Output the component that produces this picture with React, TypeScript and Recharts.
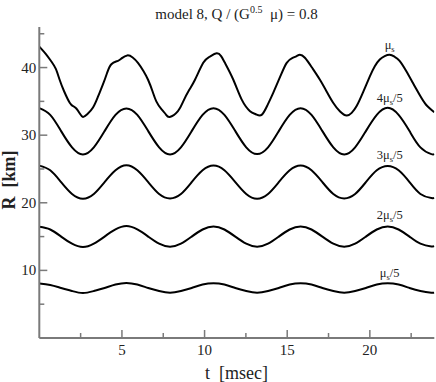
import React from "react";
import { LineChart, Line, XAxis, YAxis, ReferenceDot } from "recharts";

// mu_s curve (irregular, read point by point)
const muTimes = [
  0, 0.4, 0.73, 1.0, 1.23, 1.5, 1.84, 2.05, 2.24, 2.45, 2.64, 2.9, 3.25, 3.55, 3.85, 4.1, 4.36, 4.76, 5.0,
  5.32, 5.65, 5.97, 6.3, 6.58, 6.85, 7.08, 7.4, 7.65, 7.89, 8.39, 8.71, 9.05, 9.42, 9.92, 10.3, 10.73, 11.0,
  11.23, 11.74, 12.24, 12.75, 13.1, 13.45, 13.8, 14.16, 14.6, 14.97, 15.3, 15.57, 15.77, 16.07, 16.5, 16.98,
  17.4, 17.78, 18.2, 18.6, 18.9, 19.2, 19.6, 20.0, 20.3, 20.6, 20.9, 21.2, 21.5, 21.8, 22.2, 22.6, 23.0, 23.4, 23.9,
];
const muValues = [
  43.1, 42.0, 40.9, 39.8, 38.2, 36.5, 34.8, 34.3, 33.95, 33.2, 32.7, 33.1, 34.1, 35.7, 37.5, 39.2, 40.5, 41.0, 41.4,
  41.8, 41.5, 40.7, 39.5, 38.2, 36.5, 35.0, 33.8, 33.1, 32.7, 33.55, 35.0, 36.6, 38.2, 40.7, 41.6, 42.1, 41.7,
  40.7, 38.2, 35.3, 33.55, 33.1, 33.0, 34.4, 36.3, 38.8, 40.7, 41.4, 41.7, 41.9, 41.45, 40.0, 38.2,
  36.4, 34.8, 33.5, 32.9, 33.3, 34.3, 36.4, 38.7, 40.2, 41.2, 41.7, 41.9, 41.6, 41.0, 39.5, 37.75, 36.0, 34.5, 33.4,
];

// lower curves, sampled on a shared time grid
const gridTimes = [
  0, 0.66, 1.32, 1.98, 2.64, 3.3, 3.95, 4.61, 5.27, 5.93, 6.59, 7.25, 7.91, 8.57, 9.22, 9.88, 10.54, 11.2, 11.86,
  12.52, 13.18, 13.84, 14.49, 15.15, 15.81, 16.47, 17.13, 17.79, 18.45, 19.11, 19.76, 20.42, 21.08, 21.74, 22.4,
  23.06, 23.72, 23.9,
];
const r4of5 = [
  34.0, 33.0, 30.6, 28.2, 27.15, 28.2, 30.6, 33.0, 33.95, 33.0, 30.6, 28.2, 27.15, 28.2, 30.6, 33.0, 34.0, 33.0, 30.6,
  28.2, 27.2, 28.2, 30.6, 33.0, 34.0, 33.0, 30.6, 28.2, 27.15, 28.2, 30.6, 33.0, 34.05, 33.0, 30.6, 28.2, 27.2, 27.25,
];
const r3of5 = [
  25.5, 24.8, 23.05, 21.3, 20.6, 21.3, 23.05, 24.8, 25.55, 24.8, 23.05, 21.3, 20.65, 21.3, 23.05, 24.8, 25.5, 24.8, 23.05,
  21.3, 20.6, 21.3, 23.05, 24.8, 25.5, 24.8, 23.05, 21.3, 20.65, 21.3, 23.05, 24.8, 25.45, 24.8, 23.05, 21.3, 20.7, 20.75,
];
const r2of5 = [
  16.45, 16.05, 15.0, 13.95, 13.45, 13.95, 15.0, 16.05, 16.55, 16.05, 15.0, 13.95, 13.5, 13.95, 15.0, 16.05, 16.5, 16.05, 15.0,
  13.95, 13.5, 13.95, 15.0, 16.05, 16.5, 16.05, 15.0, 13.95, 13.5, 13.95, 15.0, 16.05, 16.5, 16.05, 15.0, 13.95, 13.55, 13.6,
];
const r1of5 = [
  8.05, 7.85, 7.4, 6.95, 6.65, 6.95, 7.4, 7.9, 8.15, 7.9, 7.4, 6.95, 6.7, 6.95, 7.4, 7.9, 8.1, 7.9, 7.4,
  6.95, 6.7, 6.95, 7.4, 7.9, 8.1, 7.9, 7.4, 6.95, 6.7, 6.95, 7.4, 7.9, 8.1, 7.9, 7.4, 6.95, 6.7, 6.7,
];

const xTicks = [2.5, 5, 7.5, 10, 12.5, 15, 17.5, 20, 22.5];
const xTickLabels = ["", "5", "", "10", "", "15", "", "20", ""];
const yTicks = [5, 10, 15, 20, 25, 30, 35, 40, 45];
const yTickLabels = ["", "10", "", "20", "", "30", "", "40", ""];

const curveLabels = [
  { lead: "μ", tail: "", t: 21.2, v: 42.7 },
  { lead: "4μ", tail: "/5", t: 21.2, v: 34.84 },
  { lead: "3μ", tail: "/5", t: 21.2, v: 26.41 },
  { lead: "2μ", tail: "/5", t: 21.2, v: 17.54 },
  { lead: "μ", tail: "/5", t: 21.2, v: 8.96 },
];

const topData = muTimes.map((t, i) => ({ t, r: muValues[i] }));
const lowerData = gridTimes.map((t, i) => ({
  t,
  a: r4of5[i],
  b: r3of5[i],
  c: r2of5[i],
  d: r1of5[i],
}));

const AXIS = "#7a7a7a";
const SERIF = '"Liberation Serif", "Times New Roman", "DejaVu Serif", serif';
const X_DOMAIN = [0, 23.9];
const Y_DOMAIN = [0, 46];

const BottomTick = (props: any) => {
  const { x, y, payload } = props;
  const label = xTickLabels[xTicks.indexOf(payload.value)];
  const len = label ? 8 : 5;
  return (
    <g>
      <line x1={x} x2={x} y1={y} y2={y - len} stroke={AXIS} strokeWidth={1.5} />
      <text x={x} y={y + 17} textAnchor="middle" fontFamily={SERIF} fontSize={15} fill="#222">
        {label}
      </text>
    </g>
  );
};

const TopTick = (props: any) => {
  const { x, y, payload } = props;
  const len = xTickLabels[xTicks.indexOf(payload.value)] ? 8 : 5;
  return <line x1={x} x2={x} y1={y} y2={y + len} stroke={AXIS} strokeWidth={1.5} />;
};

const LeftTick = (props: any) => {
  const { x, y, payload } = props;
  const label = yTickLabels[yTicks.indexOf(payload.value)];
  const len = label ? 8 : 5;
  return (
    <g>
      <line x1={x} x2={x + len} y1={y} y2={y} stroke={AXIS} strokeWidth={1.5} />
      <text x={x - 3} y={y + 5} textAnchor="end" fontFamily={SERIF} fontSize={15} fill="#222">
        {label}
      </text>
    </g>
  );
};

const RightTick = (props: any) => {
  const { x, y, payload } = props;
  const len = yTickLabels[yTicks.indexOf(payload.value)] ? 8 : 5;
  return <line x1={x} x2={x - len} y1={y} y2={y} stroke={AXIS} strokeWidth={1.5} />;
};

export default function App() {
  return (
    <div style={{ position: "absolute", left: 0, top: 0, width: 436, height: 382 }}>
      <div
        style={{
          position: "absolute",
          left: 39,
          top: 2,
          width: 395,
          textAlign: "center",
          fontFamily: SERIF,
          fontSize: 15,
          lineHeight: "16px",
          color: "#222",
          whiteSpace: "pre",
        }}
      >
        model 8, Q / (G<sup style={{ fontSize: 10 }}>0.5</sup>  μ) = 0.8
      </div>
      <LineChart width={436} height={382} margin={{ top: 27, right: 1.7, bottom: 0, left: 0.3 }}>
        <XAxis
          dataKey="t"
          type="number"
          domain={X_DOMAIN}
          ticks={xTicks}
          interval={0}
          height={44}
          tickLine={false}
          tickSize={0}
          tickMargin={0}
          axisLine={{ stroke: AXIS, strokeWidth: 2 }}
          tick={<BottomTick />}
          allowDataOverflow
        />
        <XAxis
          xAxisId="top"
          orientation="top"
          type="number"
          domain={X_DOMAIN}
          ticks={xTicks}
          interval={0}
          height={0}
          tickLine={false}
          tickSize={0}
          tickMargin={0}
          axisLine={{ stroke: AXIS, strokeWidth: 2 }}
          tick={<TopTick />}
          allowDataOverflow
        />
        <YAxis
          type="number"
          domain={Y_DOMAIN}
          ticks={yTicks}
          interval={0}
          width={39}
          tickLine={false}
          tickSize={0}
          tickMargin={0}
          axisLine={{ stroke: AXIS, strokeWidth: 2 }}
          tick={<LeftTick />}
          allowDataOverflow
        />
        <YAxis
          yAxisId="right"
          orientation="right"
          type="number"
          domain={Y_DOMAIN}
          ticks={yTicks}
          interval={0}
          width={0}
          tickLine={false}
          tickSize={0}
          tickMargin={0}
          axisLine={{ stroke: AXIS, strokeWidth: 2 }}
          tick={<RightTick />}
          allowDataOverflow
        />
        <Line data={topData} dataKey="r" type="natural" stroke="#000" strokeWidth={2} dot={false} isAnimationActive={false} />
        <Line data={lowerData} dataKey="a" type="natural" stroke="#000" strokeWidth={2} dot={false} isAnimationActive={false} />
        <Line data={lowerData} dataKey="b" type="natural" stroke="#000" strokeWidth={2} dot={false} isAnimationActive={false} />
        <Line data={lowerData} dataKey="c" type="natural" stroke="#000" strokeWidth={2} dot={false} isAnimationActive={false} />
        <Line data={lowerData} dataKey="d" type="natural" stroke="#000" strokeWidth={2} dot={false} isAnimationActive={false} />
        {curveLabels.map((c, i) => (
          <ReferenceDot
            key={i}
            x={c.t}
            y={c.v}
            r={0}
            ifOverflow="visible"
            shape={(p: any) => (
              <text x={p.cx} y={p.cy} textAnchor="middle" fontFamily={SERIF} fontSize={12.5} fill="#222">
                <tspan>{c.lead}</tspan>
                <tspan dy={3} fontSize={8.5}>s</tspan>
                <tspan dy={-3}>{c.tail}</tspan>
              </text>
            )}
          />
        ))}
      </LineChart>
      <div
        style={{
          position: "absolute",
          left: 39,
          top: 364,
          width: 395,
          textAlign: "center",
          fontFamily: SERIF,
          fontSize: 18,
          lineHeight: "18px",
          color: "#222",
          whiteSpace: "pre",
        }}
      >
        t  [msec]
      </div>
      <div
        style={{
          position: "absolute",
          left: 9,
          top: 180,
          transform: "translate(-50%, -50%) rotate(-90deg)",
          fontFamily: SERIF,
          fontSize: 18,
          fontWeight: "bold",
          lineHeight: "18px",
          color: "#222",
          whiteSpace: "pre",
        }}
      >
        R  [km]
      </div>
    </div>
  );
}
